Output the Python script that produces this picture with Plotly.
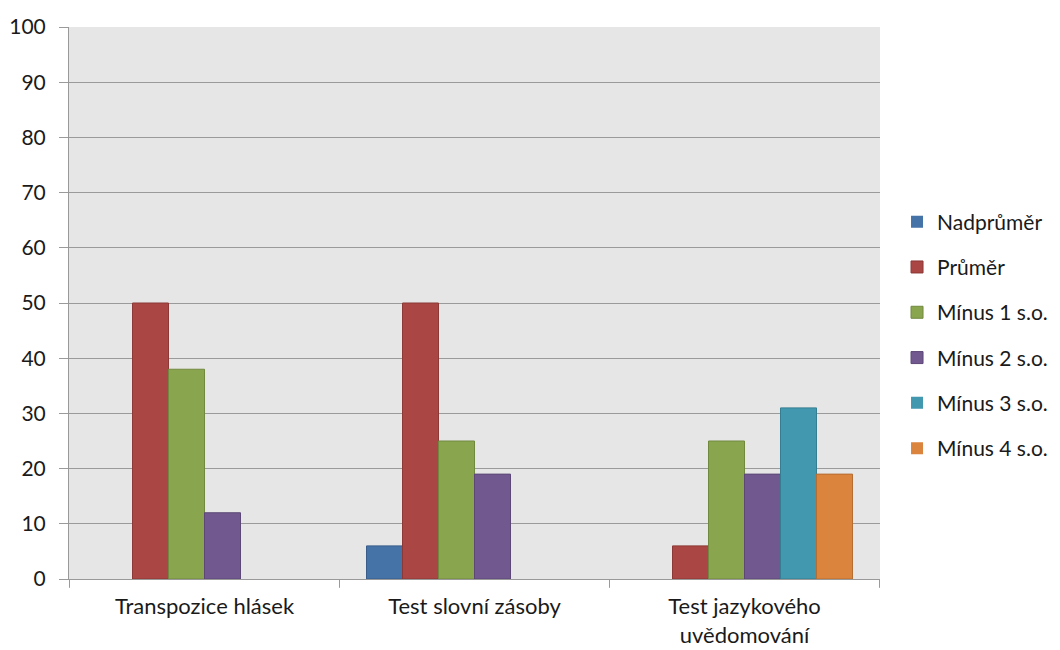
import plotly.graph_objects as go

# Categories on the x axis
categories = ["Transpozice hlásek", "Test slovní zásoby", "Test jazykového<br>uvědomování"]

# Series names (legend) and values per category
series_names = ["Nadprůměr", "Průměr", "Mínus 1 s.o.", "Mínus 2 s.o.", "Mínus 3 s.o.", "Mínus 4 s.o."]
nadprumer = [0, 6, 0]
prumer = [50, 50, 6]
minus1 = [38, 25, 25]
minus2 = [12, 19, 19]
minus3 = [0, 0, 31]
minus4 = [0, 0, 19]

y_ticks = [0, 10, 20, 30, 40, 50, 60, 70, 80, 90, 100]

fill_colors = ["#4572A7", "#AA4643", "#89A54E", "#71588F", "#4198AF", "#DB843D"]
edge_colors = ["#385D8A", "#8C3836", "#71893F", "#5C4776", "#357D91", "#B66D31"]

font_family = "Lato, 'Open Sans', sans-serif"
text_color = "#1A1A1A"

fig = go.Figure()
for i, (name, vals) in enumerate(zip(series_names,
                                     [nadprumer, prumer, minus1, minus2, minus3, minus4])):
    # zero-height bars get no outline so they stay invisible
    widths = [1 if v else 0 for v in vals]
    fig.add_trace(go.Bar(
        x=categories,
        y=vals,
        name=name,
        legendgroup=name,
        marker=dict(color=fill_colors[i], line=dict(color=edge_colors[i], width=widths)),
    ))

fig.update_layout(
    width=1060,
    height=650,
    margin=dict(l=69, r=180, t=27, b=71, autoexpand=False),
    paper_bgcolor="white",
    plot_bgcolor="#E6E6E6",
    barmode="group",
    bargap=0.2,
    bargroupgap=0,
    font=dict(family=font_family, size=21, color=text_color),
    showlegend=True,
    legend=dict(
        x=1.021, xanchor="left",
        y=0.442, yanchor="middle",
        font=dict(size=21, color=text_color),
        tracegroupgap=15,
        traceorder="grouped",
        bgcolor="rgba(0,0,0,0)",
    ),
    xaxis=dict(
        automargin=False,
        showline=True, linecolor="#999999", linewidth=1,
        ticks="", tickfont=dict(size=22, color=text_color),
        ticklabelstandoff=8,
        showgrid=False,
    ),
    yaxis=dict(
        automargin=False,
        range=[0, 100],
        tickvals=y_ticks,
        showgrid=True, gridcolor="#9A9A9A", gridwidth=1,
        showline=True, linecolor="#999999", linewidth=1,
        ticks="outside", ticklen=9, tickcolor="#9A9A9A",
        tickfont=dict(size=21, color=text_color),
        ticklabelstandoff=9,
        zeroline=False,
    ),
)

# Divider tick marks between categories on the x axis
for xv in [-0.5, 0.5, 1.5, 2.5]:
    fig.add_shape(type="line", xref="x", yref="paper",
                  x0=xv, x1=xv, y0=0, y1=-0.016,
                  line=dict(color="#9A9A9A", width=1))

fig.write_html("out.html")
